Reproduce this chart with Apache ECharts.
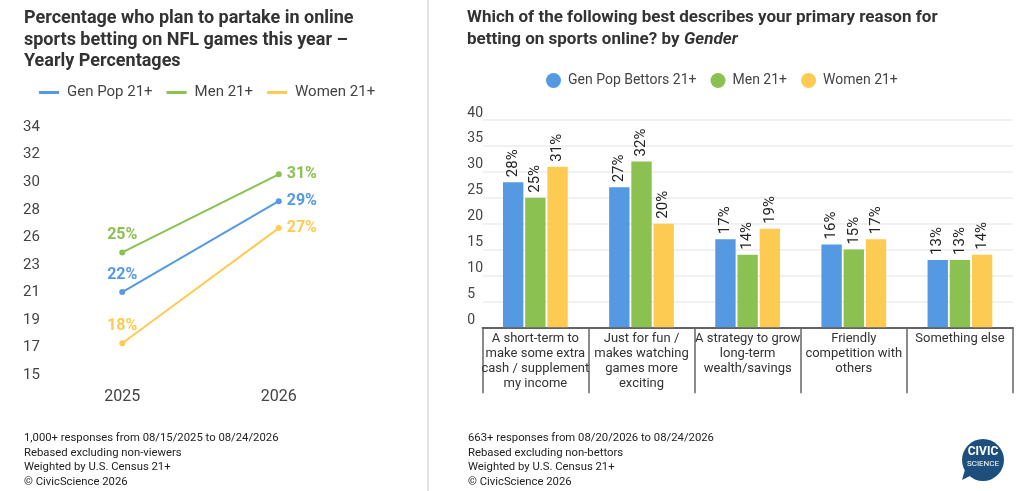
<!DOCTYPE html>
<html>
<head>
<meta charset="utf-8">
<script src="https://cdn.jsdelivr.net/npm/echarts@6/dist/echarts.min.js"></script>
<style>
  html, body { margin: 0; padding: 0; background: #fff; }
  #main { width: 1024px; height: 491px; }
</style>
</head>
<body>
<div id="main"></div>
<script>
// left chart: yearly trend
var years = ['2025', '2026'];
var genPop = [21.5, 28.6];
var men = [24.6, 30.7];
var women = [17.5, 26.5];
var leftTicks = ['15', '17', '19', '21', '23', '26', '28', '30', '32', '34'];

// right chart: primary reason by gender
var reasons = [
    'A short-term to\nmake some extra\ncash / supplement\nmy income',
    'Just for fun /\nmakes watching\ngames more\nexciting',
    'A strategy to grow\nlong-term\nwealth/savings',
    'Friendly\ncompetition with\nothers',
    'Something else'
];
var genPopBettors = [28, 27, 17, 16, 13];
var menBettors = [25, 32, 14, 15, 13];
var womenBettors = [31, 20, 19, 17, 14];

var BLUE = '#5599e3';
var GREEN = '#8bc151';
var YELLOW = '#fecb52';
var FONT = 'Roboto';

var leftMin = 15;
var leftStep = 19.4 / 9;
var leftMax = leftMin + leftStep * 9;

function lineData(vals){
    var out = [];
    for (var i = 0; i < vals.length; i++) {
        out.push({
            value: vals[i],
            label: i == 0 ? {position: 'top', distance: 6} : {position: 'right', distance: 5}
        });
    }
    return out;
}

function lineSeries(name, vals, color){
    return {
        name: name,
        type: 'line',
        xAxisIndex: 0,
        yAxisIndex: 0,
        data: lineData(vals),
        symbol: 'circle',
        symbolSize: 6,
        lineStyle: {color: color, width: 2},
        itemStyle: {color: color},
        label: {
            show: true,
            color: color,
            fontFamily: FONT,
            fontWeight: 'bold',
            fontSize: 16,
            formatter: function(p){ return Math.round(p.value) + '%'; }
        }
    };
}

function barSeries(name, vals, color){
    return {
        name: name,
        type: 'bar',
        xAxisIndex: 1,
        yAxisIndex: 1,
        data: vals,
        barGap: '9%',
        barCategoryGap: '39%',
        itemStyle: {color: color},
        label: {
            show: true,
            position: 'top',
            rotate: 90,
            align: 'left',
            verticalAlign: 'middle',
            distance: 5,
            color: '#222',
            fontFamily: FONT,
            fontSize: 15,
            formatter: '{c}%'
        }
    };
}

var footStyle = {fill: '#222', font: '11.3px Roboto', lineHeight: 14.5};

var chart = echarts.init(document.getElementById('main'));
var option = {
    animation: false,
    textStyle: {fontFamily: FONT},
    title: [{
        text: 'Percentage who plan to partake in online\nsports betting on NFL games this year –\nYearly Percentages',
        left: 24,
        top: 8,
        padding: 0,
        textStyle: {fontFamily: FONT, fontSize: 18, fontWeight: 'bold', color: '#333', lineHeight: 21.5}
    }, {
        text: '{b|Which of the following best describes your primary reason for}\n{b|betting on sports online?} {n|by} {i|Gender}',
        left: 467,
        top: 7,
        padding: 0,
        textStyle: {
            rich: {
                b: {fontFamily: FONT, fontSize: 17, fontWeight: 'bold', color: '#333', lineHeight: 21.5},
                n: {fontFamily: FONT, fontSize: 17, color: '#333', lineHeight: 21.5},
                i: {fontFamily: FONT, fontSize: 17, fontWeight: 'bold', fontStyle: 'italic', color: '#333', lineHeight: 21.5}
            }
        }
    }],
    legend: [{
        data: ['Gen Pop 21+', 'Men 21+', 'Women 21+'],
        left: 39,
        top: 85,
        padding: 0,
        icon: 'rect',
        itemWidth: 20,
        itemHeight: 3,
        itemGap: 14,
        selectedMode: false,
        textStyle: {fontFamily: FONT, fontSize: 15, color: '#444', padding: [0, 0, 0, 3]}
    }, {
        data: ['Gen Pop Bettors 21+', 'Men 21+', 'Women 21+'],
        left: 546,
        top: 73,
        padding: 0,
        icon: 'circle',
        itemWidth: 15,
        itemHeight: 15,
        itemGap: 14,
        selectedMode: false,
        textStyle: {fontFamily: FONT, fontSize: 14, color: '#444', padding: [0, 0, 0, 2]}
    }],
    grid: [
        {left: 44, right: 667, top: 375.3 - (leftMax - leftMin) * 12.8, bottom: 115.7},
        {left: 482.3, right: 11, top: 120, bottom: 163.7}
    ],
    xAxis: [{
        type: 'category',
        gridIndex: 0,
        data: years,
        axisLine: {show: false},
        axisTick: {show: false},
        axisLabel: {fontFamily: FONT, fontSize: 16, color: '#444', margin: 14}
    }, {
        type: 'category',
        gridIndex: 1,
        data: reasons,
        axisLine: {lineStyle: {color: '#333', width: 1.5}},
        axisTick: {show: true, interval: 0, length: 66, lineStyle: {color: '#666', width: 1.5}},
        axisLabel: {interval: 0, fontFamily: FONT, fontSize: 13, color: '#333', lineHeight: 15, margin: 4}
    }],
    yAxis: [{
        type: 'value',
        gridIndex: 0,
        min: leftMin,
        max: leftMax,
        interval: leftStep,
        splitLine: {show: false},
        axisLine: {show: false},
        axisTick: {show: false},
        axisLabel: {
            fontFamily: FONT, fontSize: 15, color: '#444', align: 'left', margin: 21,
            formatter: function(v){ return leftTicks[Math.round((v - leftMin) / leftStep)]; }
        }
    }, {
        type: 'value',
        gridIndex: 1,
        min: 0,
        max: 40,
        interval: 5,
        splitLine: {lineStyle: {color: '#ececec', width: 1.5}},
        axisLine: {show: false},
        axisTick: {show: false},
        axisLabel: {fontFamily: FONT, fontSize: 14, color: '#444', align: 'left', verticalAlign: 'bottom', margin: 15}
    }],
    series: [
        lineSeries('Gen Pop 21+', genPop, BLUE),
        lineSeries('Men 21+', men, GREEN),
        lineSeries('Women 21+', women, YELLOW),
        barSeries('Gen Pop Bettors 21+', genPopBettors, BLUE),
        barSeries('Men 21+', menBettors, GREEN),
        barSeries('Women 21+', womenBettors, YELLOW)
    ],
    graphic: [
        {type: 'line', shape: {x1: 428, y1: 0, x2: 428, y2: 491}, style: {stroke: '#e3e3e3', lineWidth: 2}},
        {type: 'text', left: 24, top: 431, style: Object.assign({
            text: '1,000+ responses from 08/15/2025 to 08/24/2026\nRebased excluding non-viewers\nWeighted by U.S. Census 21+\n© CivicScience 2026'}, footStyle)},
        {type: 'text', left: 468, top: 431, style: Object.assign({
            text: '663+ responses from 08/20/2026 to 08/24/2026\nRebased excluding non-bettors\nWeighted by U.S. Census 21+\n© CivicScience 2026'}, footStyle)},
        // logo
        {type: 'polygon', shape: {points: [[966, 466], [962, 480], [976, 473]]}, style: {fill: '#1d4f7c'}},
        {type: 'circle', shape: {cx: 983, cy: 460, r: 21}, style: {fill: '#1d4f7c'}},
        {type: 'text', x: 983, y: 452, style: {text: 'CIVIC', fill: '#fff', font: 'bold 12px Roboto', align: 'center', verticalAlign: 'middle'}},
        {type: 'text', x: 983, y: 464, style: {text: 'SCIENCE', fill: '#fff', font: '8px Roboto', align: 'center', verticalAlign: 'middle'}}
    ]
};

if (option && typeof option === "object") {
    chart.setOption(option, true);
}
</script>
</body>
</html>
